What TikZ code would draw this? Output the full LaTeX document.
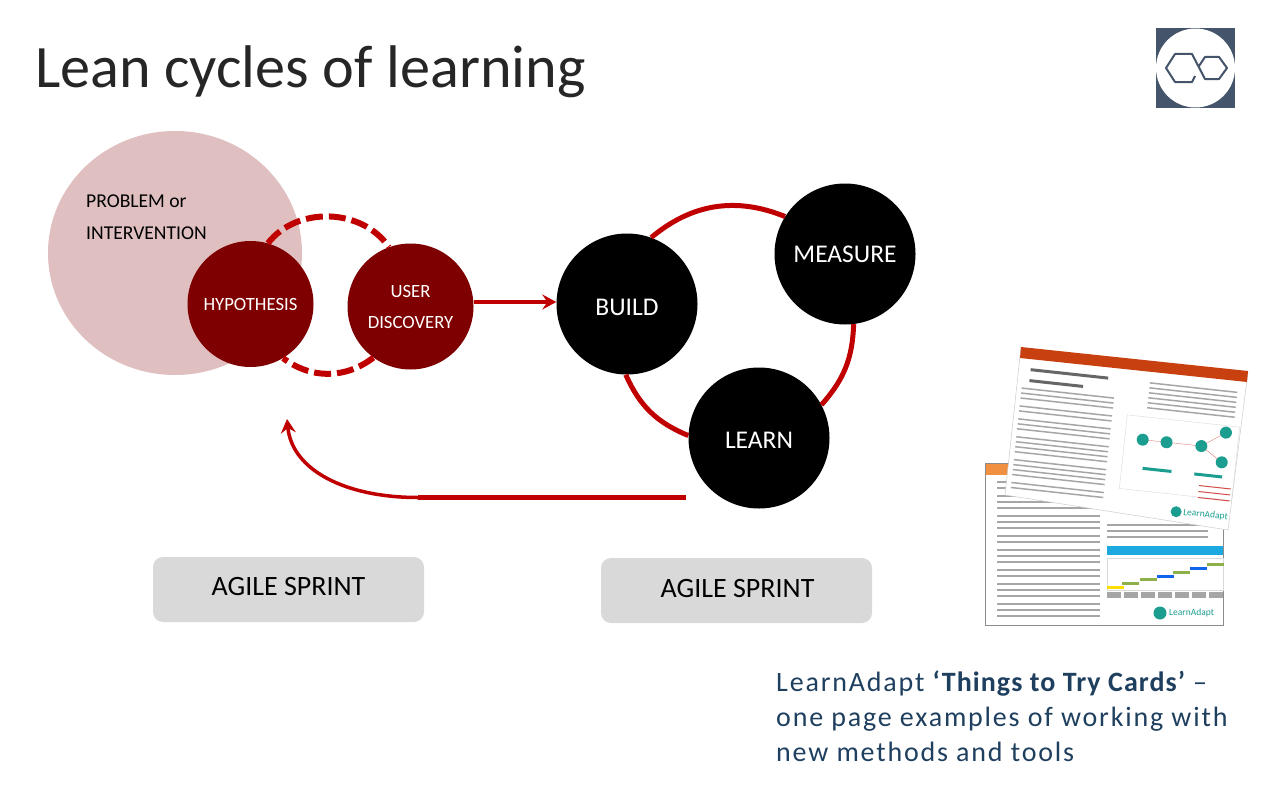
\documentclass[tikz,border=0pt]{standalone}
\usepackage{fontspec}
\setmainfont{Carlito}
\newfontfamily\spacedfont[LetterSpace=6.5]{Carlito}
\newfontfamily\tryfont[LetterSpace=3.8]{Carlito}
\usetikzlibrary{arrows.meta,shapes.geometric}
\definecolor{darkred}{HTML}{7F0000}
\definecolor{linered}{HTML}{C00000}
\definecolor{pinkfill}{HTML}{DFBFC0}
\definecolor{slate}{HTML}{44546A}
\definecolor{inkblue}{HTML}{1F3F5F}
\definecolor{teal}{HTML}{1B9E8F}
\definecolor{barcol}{HTML}{A6A6A6}
\definecolor{rust}{HTML}{C8400F}
\definecolor{peach}{HTML}{F09040}
\definecolor{skyblue}{HTML}{1CA9E0}
\definecolor{olive}{HTML}{8DB04A}
\newcommand{\nudge}[2]{\raisebox{#1}[\height][\depth]{#2}}
\begin{document}
\begin{tikzpicture}[
    x=1pt, y=-1pt,
    red disc/.style={draw=none, circle, fill=darkred, text=white, inner sep=0pt, minimum size=126pt, align=center,
        font=\fontsize{18.7}{31}\selectfont},
    black disc/.style={draw=none, circle, fill=black, text=white, inner sep=0pt, minimum size=141pt, align=center,
        font=\fontsize{25.5}{30}\selectfont},
    sprint box/.style={draw=none, rounded corners=10pt, fill=black!15, minimum width=271pt, minimum height=65pt,
        inner sep=0pt, font=\fontsize{28}{32}\selectfont},
    cycle line/.style={draw=linered, line width=5pt},
    dash line/.style={draw=linered, line width=6pt, dash pattern=on 17pt off 6pt},
    push line/.style={draw=linered, line width=3.5pt, -{Stealth[length=14pt, width=15pt, inset=5pt]}},
    text bar/.style={fill=barcol, draw=none},
    label distance=-1mm]

\useasboundingbox (0,0) rectangle (1279,800);

\node[anchor=base west, inner sep=0pt, text=black!85, font=\fontsize{60.2}{64}\selectfont] (title) at (35,87) {Lean cycles of learning};

% logo
\node[fill=slate, draw=none, minimum size=79pt, inner sep=0pt] (logobox) at (1195.5,68) {};
\node[fill=white, draw=none, circle, minimum size=79pt, inner sep=0pt] (logodisc) at (1195.5,68) {};
\draw[slate, line width=2pt, line join=round] (1199,66) -- (1205,57) -- (1219,57) -- (1227,68) -- (1219,79) -- (1205,79) -- (1192,54) -- (1175,54) -- (1166,68) -- (1175,82) -- (1192,82) -- (1195,76);

% left part
\node[ellipse, fill=pinkfill, draw=none, minimum width=254pt, minimum height=244pt, inner sep=0pt] (problem) at (175,253) {};
\node[anchor=west, inner sep=0pt, font=\fontsize{19.6}{32}\selectfont, align=left] (problemtext) at (86,217) {PROBLEM or\\INTERVENTION};
\node[red disc] (hypothesis) at (250.5,304) {HYPOTHESIS};
\node[red disc] (discovery) at (410.5,306.5) {\nudge{0pt}{USER}\\\nudge{0pt}{DISCOVERY}};
\draw[dash line] (hypothesis.74) to[bend left=54] (discovery.110);
\draw[dash line] (discovery.234) to[bend left=37] (hypothesis.-59);

% right part
\node[black disc] (build) at (627,304) {\nudge{-3pt}{BUILD}};
\node[black disc] (measure) at (845,254) {MEASURE};
\node[black disc] (learn) at (759,438) {\nudge{-2.5pt}{LEARN}};
\draw[cycle line] (build.70) to[bend left=31] (measure.148);
\draw[cycle line] (measure.277) to[bend left=20] (learn.28);
\draw[cycle line] (learn.178) to[bend left=22] (build.269);
\draw[push line] (discovery.east |- 0,302) -- (build.west |- 0,302);

\coordinate (backstart) at (686,497.5);
\coordinate (backmid) at (418,497.5);
\coordinate (backtip) at (287,419);
\draw[draw=linered, line width=4.5pt] (backstart) -- (backmid);
\draw[push line] (backmid) .. controls (345,497.5) and (292,470) .. (backtip);

\node[sprint box] (sprintone) at (288.5,589.5) {\nudge{3pt}{AGILE SPRINT}};
\node[sprint box] (sprinttwo) at (736.5,590.5) {\hspace{2pt}\nudge{2pt}{AGILE SPRINT}};

% front card
\node[draw=black!45, fill=white, anchor=north west, minimum width=238pt, minimum height=162pt, inner sep=0pt, line width=.7pt] (frontcard) at (985,463) {};
\fill[peach] (985.5,463.5) rectangle (1010,475);
\foreach \y in {481,487,495,501,507,515,521,527,535,541,549,555,561,569,575,583,589,595,603,609,615}
    \fill[text bar] (997,\y) rectangle (1100,\y+1.5);
\foreach \y in {524,530,536}
    \fill[text bar] (1107,\y) rectangle (1208,\y+1.5);
\fill[skyblue] (1107,546) rectangle (1223,555);
\draw[black!15, line width=.4pt] (1107,558) rectangle (1223,590);
\foreach \x/\y/\c in {1107/586/yellow!80!orange,1122/582/olive,1140/578/olive,1157/575/skyblue!60!blue,1173/571/olive,1190/567/skyblue!60!blue,1207/563/olive}
    \fill[\c] (\x,\y) rectangle +(17,3);
\foreach \x in {1107,1124,1141,1158,1175,1192,1209}
    \fill[text bar] (\x,592) rectangle +(14,6);
\node[circle, fill=teal, draw=none, minimum size=13pt, inner sep=0pt] (frontdot) at (1160,613) {};
\node[anchor=west, inner sep=0pt, text=teal, font=\fontsize{9.5}{10}\selectfont] (frontlogo) at (1169,613) {LearnAdapt};

% back card
\fill[white] (1021,347) -- (1248,371) -- (1228,530) -- (1005,495) -- cycle;
\draw[black!20, line width=.5pt] (1021,347) -- (1005,495) -- (1228,530) -- (1248,371);
\fill[rust] (1021,347) -- (1248,371) -- (1247,382) -- (1020,358) -- cycle;
\begin{scope}[shift={(1021,347)}, rotate=-6.2]
\fill[black!60] (12,20) rectangle (90,23);
\fill[black!60] (12,31) rectangle (66,34);
\foreach \y in {40,45,50,58,63,71,76,81,89,94,99,104,112,117,122,127,135,140}
    \fill[text bar] (5,\y) rectangle (98,\y+1.5);
\foreach \y in {21,26,31,36,41,46}
    \fill[text bar] (132,\y) rectangle (220,\y+1.5);
\draw[black!15, line width=.4pt] (113,56) rectangle (226,130);
\draw[linered!60, line width=.3pt] (131,79) -- (155,79) (155,79) -- (190,79) (190,79) -- (213,63) (190,79) -- (212,93);
\foreach \x/\y in {131/79,155/79,190/79,213/63,212/93}
    \fill[teal] (\x,\y) circle (6);
\fill[teal] (134,106) rectangle +(29,3);
\fill[teal] (186,106) rectangle +(28,3);
\foreach \y in {118,124,130}
    \fill[linered!70] (192,\y) rectangle +(32,1);
\node[circle, fill=teal, draw=none, minimum size=11pt, inner sep=0pt] (backdot) at (172,147) {};
\node[anchor=west, inner sep=0pt, text=teal, rotate=-6.2, font=\fontsize{9.5}{10}\selectfont] (backlogo) at (179,147) {LearnAdapt};
\end{scope}

\node[anchor=north west, inner sep=0pt, text=inkblue, align=left, font=\fontsize{28}{35}\selectfont\spacedfont] (caption) at (776,671)
    {LearnAdapt {\tryfont\bfseries ‘Things to Try Cards’} –\\one page examples of working with\\new methods and tools};

\end{tikzpicture}
\end{document}
